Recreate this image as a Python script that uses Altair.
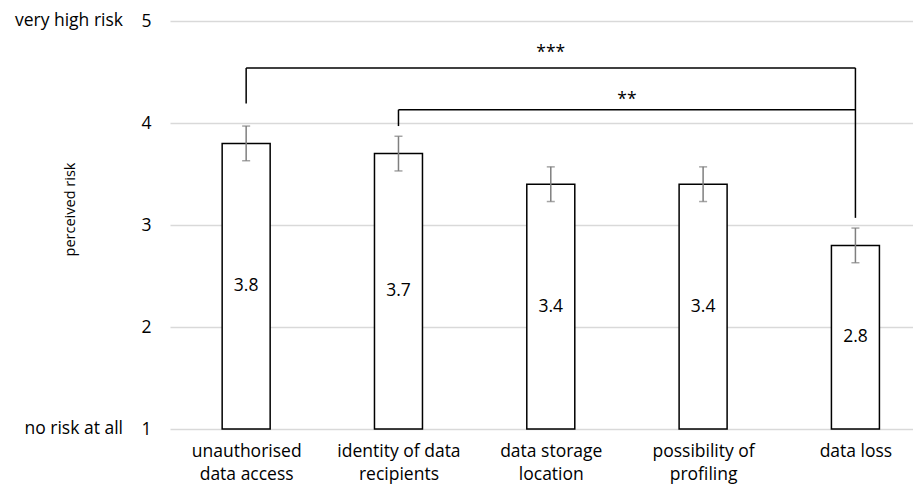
import json
import altair as alt
import pandas as pd

# ---- data ----
categories = ["unauthorised|data access", "identity of data|recipients",
              "data storage|location", "possibility of|profiling", "data loss"]
means = [3.8, 3.7, 3.4, 3.4, 2.8]
errors = [0.17, 0.17, 0.17, 0.17, 0.17]
value_labels = ["3.8", "3.7", "3.4", "3.4", "2.8"]

# significance brackets
br_from = [0, 1]
br_to = [4, 4]
br_height = [4.54, 4.13]
br_left_bottom = [4.19, 3.97]
br_right_bottom = [3.07, 4.13]
br_stars = ["***", "**"]
br_star_y = [4.64, 4.18]

scale_labels = ["very high risk", "no risk at all"]
scale_label_values = [5, 1]

FONT = "Open Sans"
FS = 17.5

idx = list(range(len(categories)))
bars = pd.DataFrame({
    "i": idx,
    "mean": means,
    "base": [1] * len(means),
    "lo": [m - e for m, e in zip(means, errors)],
    "hi": [m + e for m, e in zip(means, errors)],
    "mid": [(1 + m) / 2 for m in means],
    "lab": value_labels,
})

segs = []
for f, t, h, lb, rb in zip(br_from, br_to, br_height, br_left_bottom, br_right_bottom):
    segs.append({"x": f, "x2": t, "y": h, "y2": h})
    segs.append({"x": f, "x2": f, "y": h, "y2": lb})
    segs.append({"x": t, "x2": t, "y": h, "y2": rb})
segs = pd.DataFrame(segs)

stars = pd.DataFrame({
    "x": [(f + t) / 2 for f, t in zip(br_from, br_to)],
    "y": br_star_y,
    "s": br_stars,
})

side = pd.DataFrame({"v": scale_label_values, "t": scale_labels})

label_expr = "split(" + json.dumps(categories).replace('"', "'") + "[datum.value], '|')"

xscale = alt.Scale(domain=[-0.5, 4.378], nice=False, zero=False, padding=0)
yscale = alt.Scale(domain=[1, 5], nice=False, zero=False, padding=0)

xaxis = alt.Axis(values=idx, labelExpr=label_expr, grid=False, ticks=False,
                 domain=False, labelFontSize=FS, labelLineHeight=23,
                 labelPadding=13, labelColor="#000", labelFont=FONT, title=None)
yaxis = alt.Axis(values=[1, 2, 3, 4, 5], format="d", grid=True, gridColor="#d9d9d9",
                 gridWidth=1.3, ticks=False, domain=False, labelPadding=19,
                 labelFontSize=FS, labelColor="#000", labelFont=FONT,
                 title="perceived risk", titleFont=FONT, titleFontSize=14.5,
                 titleFontWeight="normal", titleColor="#000",
                 titleX=-93, titleY=188)

base = alt.Chart(bars)

bar = base.mark_bar(fill="white", stroke="black", strokeWidth=1.5, size=48).encode(
    x=alt.X("i:Q", scale=xscale, axis=xaxis),
    y=alt.Y("mean:Q", scale=yscale, axis=yaxis),
    y2="base:Q",
)

stem = base.mark_rule(color="#7f7f7f", strokeWidth=1.5).encode(
    x="i:Q", y="lo:Q", y2="hi:Q")
cap_hi = base.mark_tick(color="#7f7f7f", orient="horizontal", size=8, thickness=1.5).encode(
    x="i:Q", y="hi:Q")
cap_lo = base.mark_tick(color="#7f7f7f", orient="horizontal", size=8, thickness=1.5).encode(
    x="i:Q", y="lo:Q")

vals = base.mark_text(font=FONT, fontSize=FS, color="#000").encode(
    x="i:Q", y="mid:Q", text="lab:N")

brk = alt.Chart(segs).mark_rule(color="black", strokeWidth=1.5).encode(
    x="x:Q", x2="x2:Q", y="y:Q", y2="y2:Q")

st = alt.Chart(stars).mark_text(font=FONT, fontSize=FS, color="#000",
                                baseline="alphabetic").encode(
    x="x:Q", y="y:Q", text="s:N")

sidelab = alt.Chart(side).mark_text(font=FONT, fontSize=FS, color="#000",
                                    align="right").encode(
    x=alt.value(-47), y="v:Q", text="t:N")

chart = alt.layer(bar, stem, cap_hi, cap_lo, vals, brk, st, sidelab).properties(
    width=743, height=408,
    autosize=alt.AutoSizeParams(type="none"),
    padding={"left": 162, "top": 13, "right": 0, "bottom": 55},
).configure_view(stroke=None)

chart.save("out.html", embed_options={"renderer": "svg", "actions": False})
